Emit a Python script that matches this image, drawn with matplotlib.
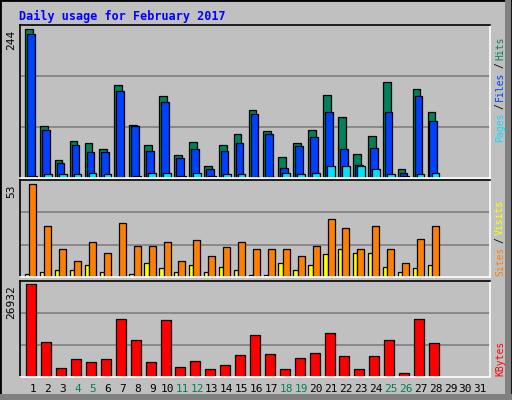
import matplotlib
matplotlib.use("Agg")
import matplotlib.pyplot as plt
from matplotlib.patches import Rectangle
import numpy as np

days = list(range(1, 32))
hits = [244,85,29,60,57,47,153,87,54,135,37,59,19,54,72,112,77,34,57,78,136,100,40,69,158,15,146,108]
files = [236,78,25,54,42,42,143,85,44,125,32,47,15,44,57,105,72,17,52,67,108,47,22,49,108,9,135,93]
pages = [4,6,6,6,9,6,0,4,9,9,4,9,4,7,6,2,2,9,6,9,19,19,19,15,7,4,7,9]
visits = [53,29,16,9,20,14,31,18,18,20,9,21,12,17,20,16,16,16,12,18,33,28,16,29,16,8,22,29]
sites = [2,3,4,4,7,3,0,2,8,5,3,7,3,6,4,1,1,8,4,7,13,16,14,14,6,3,5,7]
kbytes = [26932,10124,2752,5111,4227,5111,16906,10714,4227,16611,3047,4521,2457,3637,6291,12188,6586,2457,5406,6880,12778,5996,2457,5996,10714,1278,16906,9829]
weekend = [4,5,11,12,18,19,25,26]

W, H = 512, 400
fig = plt.figure(figsize=(W/100, H/100), dpi=100, facecolor="#C0C0C0")
mono = "DejaVu Sans Mono"

def ax_at(x0, y0, x1, y1):
    return fig.add_axes([x0/W, 1-y1/H, (x1-x0)/W, (y1-y0)/H])

def style(ax, ymax):
    ax.set_facecolor("#C0C0C0")
    ax.set_xlim(0.13, 31.65)
    ax.set_ylim(0, ymax)
    ax.set_yticks([ymax/3, 2*ymax/3])
    ax.yaxis.grid(True, color="#808080", lw=1.2)
    ax.set_axisbelow(True)
    ax.tick_params(length=0, labelleft=False, labelbottom=False)
    ax.set_xticks([])
    for s in ax.spines.values():
        s.set_linewidth(1.2)
    ax.spines["top"].set_color("black"); ax.spines["left"].set_color("black")
    ax.spines["right"].set_color("white"); ax.spines["bottom"].set_color("white")

d = np.arange(1, 29)
ec = dict(edgecolor="black", linewidth=0.9)

a1 = ax_at(20, 25, 490, 178)
style(a1, 251)
a1.bar(d-0.28, hits, width=0.52, color="#00805c", **ec)
a1.bar(d-0.15, files, width=0.52, color="#0040ff", **ec)
a1.bar(d-0.01, pages, width=0.52, color="#00e0ff", **ec)

a2 = ax_at(20, 180, 490, 277)
style(a2, 55.5)
a2.bar(d-0.39, sites, width=0.29, color="#ffff00", **ec)
a2.bar(d-0.01, visits, width=0.47, color="#ff8000", **ec)

a3 = ax_at(20, 281, 490, 377)
style(a3, 27935)
a3.bar(d-0.11, kbytes, width=0.67, color="#ff0000", **ec)

fig.text(19/W, 1-16/H, "Daily usage for February 2017", color="#0000ff",
         fontsize=8.5, fontweight="bold", family=mono, va="center")
for y, t in [(30, "244"), (185, "53"), (285, "26932")]:
    fig.text(16/W, 1-y/H, t, rotation=90, fontsize=8, family=mono, ha="right", va="top")

CH = 6.2
def right_label(parts, ybottom):
    y = ybottom
    for t, c in parts:
        fig.text(500/W, 1-y/H, t, rotation=90, color=c, fontsize=7, family=mono,
                 ha="center", va="bottom")
        y -= len(t) * CH + 2
right_label([("Pages", "#00e0ff"), ("/", "black"), ("Files", "#0040ff"), ("/", "black"), ("Hits", "#00805c")], 142)
right_label([("Sites", "#ff8000"), ("/", "black"), ("Visits", "#ffff00")], 276)
right_label([("KBytes", "#ff0000")], 376)

for i in days:
    x = 20 + (i - 0.13) / (31.65 - 0.13) * 470
    fig.text(x/W, 1-389/H, str(i), fontsize=8, family=mono, ha="center", va="center",
             color="#00805c" if i in weekend else "black")

fig.patches.append(Rectangle((0, 0), 1, 1, transform=fig.transFigure, fill=False,
                             edgecolor="black", lw=2))
fig.patches.append(Rectangle((505/W, 0), 6/W, 1, transform=fig.transFigure,
                             facecolor="#808080", edgecolor="none"))
fig.patches.append(Rectangle((0, 0), 1, 6/H, transform=fig.transFigure,
                             facecolor="#808080", edgecolor="none"))
fig.savefig("out.png", dpi=100, facecolor=fig.get_facecolor())
